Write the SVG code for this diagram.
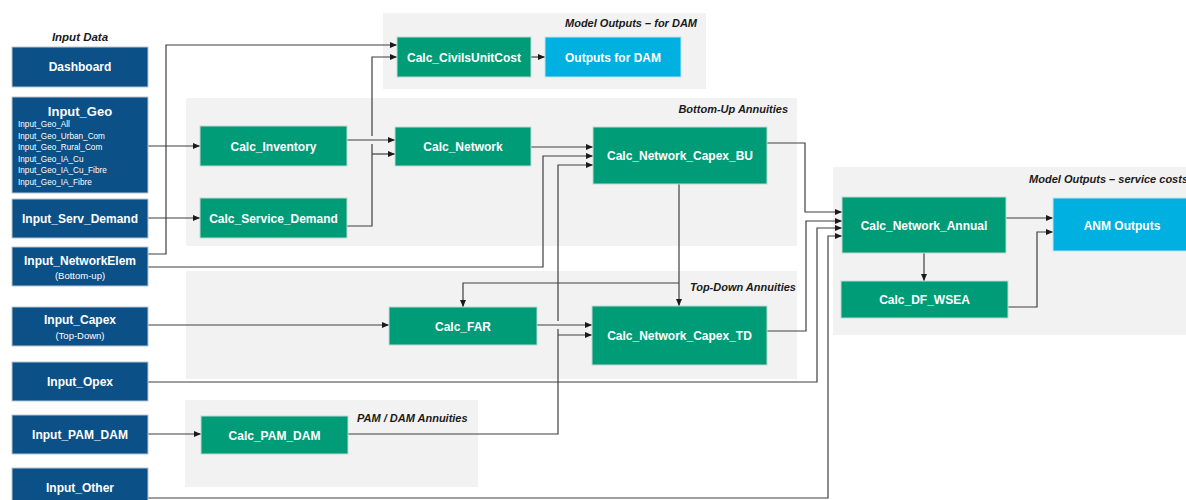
<svg xmlns="http://www.w3.org/2000/svg" width="1186" height="500" viewBox="0 0 1186 500">
  <style>
    .grp { fill: #F2F2F2; }
    .gtitle { font-family: "Liberation Sans", Arial, sans-serif; font-size: 11px; font-weight: bold; font-style: italic; fill: #1A1A1A; }
    .inp { fill: #0B5087; stroke: #B8C4D0; stroke-width: 1; }
    .calc { fill: #009C78; stroke: #BFD9CF; stroke-width: 1; }
    .out { fill: #00B0E0; stroke: #BFE3F0; stroke-width: 1; }
    .lbl { font-family: "Liberation Sans", Arial, sans-serif; font-size: 12px; font-weight: bold; fill: #FFFFFF; text-anchor: middle; }
    .sub { font-family: "Liberation Sans", Arial, sans-serif; font-size: 9.5px; fill: #FFFFFF; text-anchor: middle; }
    .small { font-family: "Liberation Sans", Arial, sans-serif; font-size: 8.2px; fill: #FFFFFF; }
    .conn path { fill: none; stroke: #3F3F3F; stroke-width: 1.2; }
    .arr { marker-end: url(#arrow); }
  </style>
  <defs>
    <marker id="arrow" markerUnits="userSpaceOnUse" markerWidth="8" markerHeight="8" refX="7" refY="4" orient="auto">
      <path d="M0,1 L7,4 L0,7 Z" fill="#1A1A1A"/>
    </marker>
  </defs>

  <rect width="1186" height="500" fill="#FFFFFF"/>

  <!-- Group panels -->
  <g id="groups">
    <rect class="grp" x="383" y="13" width="323" height="76"/>
    <text class="gtitle" x="697" y="27" text-anchor="end">Model Outputs – for DAM</text>
    <rect class="grp" x="186" y="98" width="611" height="148"/>
    <text class="gtitle" x="788" y="113" text-anchor="end">Bottom-Up Annuities</text>
    <rect class="grp" x="186" y="271" width="611" height="108"/>
    <text class="gtitle" x="796" y="291" text-anchor="end">Top-Down Annuities</text>
    <rect class="grp" x="185" y="400" width="293" height="87"/>
    <text class="gtitle" x="357" y="422">PAM / DAM Annuities</text>
    <rect class="grp" x="833" y="167" width="360" height="168"/>
    <text class="gtitle" x="1188" y="183" text-anchor="end">Model Outputs – service costs</text>
    <text class="gtitle" x="80" y="41" text-anchor="middle" style="font-size:11.5px">Input Data</text>
  </g>

  <!-- Connectors -->
  <g id="connectors" class="conn">
    <path class="arr" d="M148,254 H166 V45 H397"/>
    <path class="arr" d="M148,146 H200"/>
    <path class="arr" d="M148,218 H200"/>
    <path class="arr" d="M148,267 H543 V156 H593"/>
    <path class="arr" d="M347,140 H395"/>
    <path d="M347,226 H372 V144"/>
    <path class="arr" d="M372,136 V57 H397"/>
    <path class="arr" d="M372,154 H395"/>
    <path class="arr" d="M531,57 H545"/>
    <path class="arr" d="M531,147 H593"/>
    <path d="M348,434 H558 V329"/>
    <path class="arr" d="M558,321 V165 H593"/>
    <path class="arr" d="M558,335 H592"/>
    <path class="arr" d="M537,325 H592"/>
    <path class="arr" d="M148,325 H389"/>
    <path class="arr" d="M679,184 V306"/>
    <path class="arr" d="M679,283 H463 V307"/>
    <path class="arr" d="M767,143 H805 V212 H842"/>
    <path class="arr" d="M767,331 H806 V221 H842"/>
    <path class="arr" d="M148,382 H817 V228 H842"/>
    <path class="arr" d="M148,498 H828 V236 H842"/>
    <path class="arr" d="M1006,218 H1053"/>
    <path class="arr" d="M924,253 V281"/>
    <path class="arr" d="M1008,307 H1037 V232 H1053"/>
    <path class="arr" d="M148,434 H201"/>
  </g>

  <!-- Input nodes -->
  <g id="dashboard">
    <rect class="inp" x="12" y="47" width="136" height="40"/>
    <text class="lbl" x="80" y="71">Dashboard</text>
  </g>
  <g id="input-geo">
    <rect class="inp" x="12" y="97" width="136" height="96"/>
    <text class="lbl" x="80" y="116" style="font-size:13px">Input_Geo</text>
    <text class="small" x="18" y="127">Input_Geo_All</text>
    <text class="small" x="18" y="138.5">Input_Geo_Urban_Com</text>
    <text class="small" x="18" y="150">Input_Geo_Rural_Com</text>
    <text class="small" x="18" y="161.5">Input_Geo_IA_Cu</text>
    <text class="small" x="18" y="173">Input_Geo_IA_Cu_Fibre</text>
    <text class="small" x="18" y="184.5">Input_Geo_IA_Fibre</text>
  </g>
  <g id="input-serv-demand">
    <rect class="inp" x="12" y="199" width="136" height="39"/>
    <text class="lbl" x="80" y="222.5">Input_Serv_Demand</text>
  </g>
  <g id="input-networkelem">
    <rect class="inp" x="12" y="247" width="136" height="39"/>
    <text class="lbl" x="80" y="264.5">Input_NetworkElem</text>
    <text class="sub" x="80" y="279">(Bottom-up)</text>
  </g>
  <g id="input-capex">
    <rect class="inp" x="12" y="307" width="136" height="39"/>
    <text class="lbl" x="80" y="323.5">Input_Capex</text>
    <text class="sub" x="80" y="339">(Top-Down)</text>
  </g>
  <g id="input-opex">
    <rect class="inp" x="12" y="362" width="136" height="39"/>
    <text class="lbl" x="80" y="386">Input_Opex</text>
  </g>
  <g id="input-pam-dam">
    <rect class="inp" x="12" y="415" width="136" height="39"/>
    <text class="lbl" x="80" y="439">Input_PAM_DAM</text>
  </g>
  <g id="input-other">
    <rect class="inp" x="12" y="468" width="136" height="40"/>
    <text class="lbl" x="80" y="492">Input_Other</text>
  </g>

  <!-- Calculation nodes -->
  <g id="calc-civilsunitcost">
    <rect class="calc" x="397" y="37" width="134" height="40"/>
    <text class="lbl" x="464" y="61.5">Calc_CivilsUnitCost</text>
  </g>
  <g id="outputs-for-dam">
    <rect class="out" x="545" y="37" width="136" height="40"/>
    <text class="lbl" x="613" y="61.5">Outputs for DAM</text>
  </g>
  <g id="calc-inventory">
    <rect class="calc" x="200" y="126" width="147" height="40"/>
    <text class="lbl" x="273.5" y="150.5">Calc_Inventory</text>
  </g>
  <g id="calc-service-demand">
    <rect class="calc" x="200" y="198" width="147" height="40"/>
    <text class="lbl" x="273.5" y="222.5">Calc_Service_Demand</text>
  </g>
  <g id="calc-network">
    <rect class="calc" x="395" y="127" width="136" height="39"/>
    <text class="lbl" x="463" y="151">Calc_Network</text>
  </g>
  <g id="calc-network-capex-bu">
    <rect class="calc" x="593" y="127" width="174" height="57"/>
    <text class="lbl" x="680" y="160">Calc_Network_Capex_BU</text>
  </g>
  <g id="calc-far">
    <rect class="calc" x="389" y="307" width="148" height="38"/>
    <text class="lbl" x="463" y="330.5">Calc_FAR</text>
  </g>
  <g id="calc-network-capex-td">
    <rect class="calc" x="592" y="306" width="175" height="59"/>
    <text class="lbl" x="679.5" y="340">Calc_Network_Capex_TD</text>
  </g>
  <g id="calc-pam-dam">
    <rect class="calc" x="201" y="416" width="147" height="38"/>
    <text class="lbl" x="274.5" y="439.5">Calc_PAM_DAM</text>
  </g>
  <g id="calc-network-annual">
    <rect class="calc" x="842" y="197" width="164" height="56"/>
    <text class="lbl" x="924" y="229.5">Calc_Network_Annual</text>
  </g>
  <g id="calc-df-wsea">
    <rect class="calc" x="841" y="281" width="167" height="37"/>
    <text class="lbl" x="924.5" y="304">Calc_DF_WSEA</text>
  </g>
  <g id="anm-outputs">
    <rect class="out" x="1053" y="198" width="140" height="53"/>
    <text class="lbl" x="1122" y="229.5">ANM Outputs</text>
  </g>
</svg>
